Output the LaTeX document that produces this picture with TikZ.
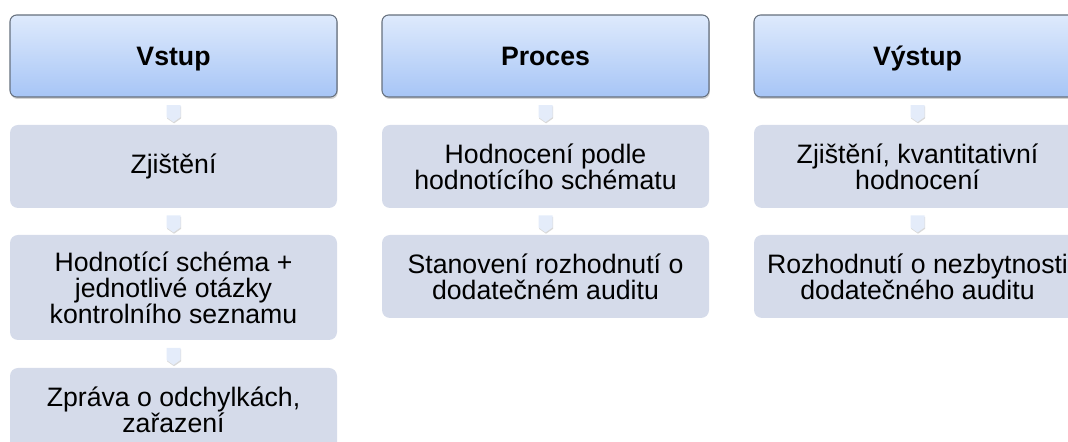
\documentclass[tikz,border=0pt]{standalone}
\usepackage{fontspec}
\setmainfont{Liberation Sans}
\usetikzlibrary{shapes.symbols,shadows,calc}
\definecolor{headtop}{HTML}{DEEAFC}
\definecolor{headbot}{HTML}{A7C5F6}
\definecolor{headline}{HTML}{66707E}
\definecolor{itemfill}{HTML}{D5DBEA}
\definecolor{tipfill}{HTML}{E4ECFA}
\begin{document}
\begin{tikzpicture}[x=0.75pt,y=0.75pt,
  head/.style={draw=headline, line width=0.8pt, rounded corners=5pt,
    top color=headtop, bottom color=headbot,
    drop shadow={opacity=0.35, shadow xshift=0.6pt, shadow yshift=-1.5pt},
    minimum width=245.25pt, minimum height=61.5pt,
    text height=14.3pt, text depth=0pt,
    font=\fontsize{20}{22}\selectfont\bfseries},
  item/.style={fill=itemfill, rounded corners=6pt, align=center,
    minimum width=245.25pt, minimum height=62.25pt,
    font=\fontsize{20}{19.5}\selectfont},
  tip/.style={signal, signal to=south, signal pointer angle=110, fill=tipfill,
    inner sep=0pt, minimum width=10.5pt, minimum height=9pt,
    drop shadow={opacity=0.3, shadow xshift=0.4pt, shadow yshift=-1pt}}]
\useasboundingbox (0,0) rectangle (1068,442);
% column heads
\node[head] (h1) at (173.5,386) {Vstup};
\node[head] (h2) at (545.5,386) {Proces};
\node[head] (h3) at (917.5,386) {Výstup};
% input
\node[item] (a1) at (173.5,275.5) {Zjištění};
\node[item, minimum height=78.75pt] (a2) at (173.5,154.5)
  {Hodnotící schéma +\\ jednotlivé otázky\\ kontrolního seznamu};
\node[item] (a3) at (173.5,32.5) {Zpráva o odchylkách,\\ zařazení};
% process
\node[item] (b1) at (545.5,275.5) {Hodnocení podle\\ hodnotícího schématu};
\node[item] (b2) at (545.5,165.5) {Stanovení rozhodnutí o\\ dodatečném auditu};
% output
\node[item] (c1) at (917.5,275.5) {Zjištění, kvantitativní\\ hodnocení};
\node[item] (c2) at (917.5,165.5) {Rozhodnutí o nezbytnosti\\ dodatečného auditu};
\foreach \a/\b in {h1/a1,a1/a2,a2/a3,h2/b1,b1/b2,h3/c1,c1/c2}
  \node[tip] (t\a) at ($(\a.south)!0.5!(\b.north)$) {};
\end{tikzpicture}
\end{document}
